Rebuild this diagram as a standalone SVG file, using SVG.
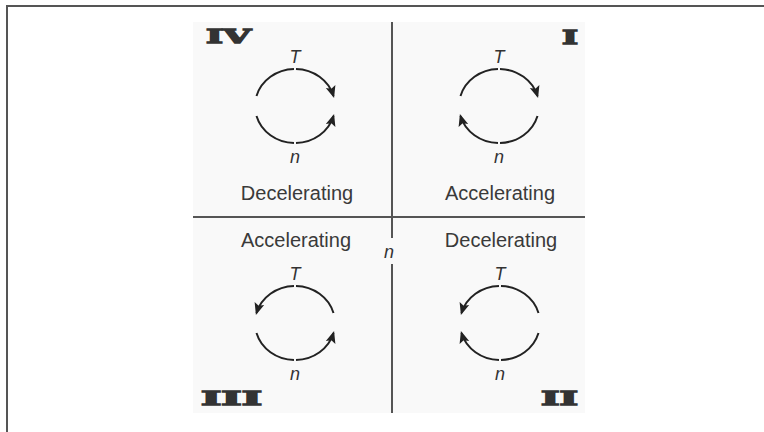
<svg xmlns="http://www.w3.org/2000/svg" width="764" height="432" viewBox="0 0 764 432">
  <style>
    .lbl { font-family: "Liberation Sans", Arial, sans-serif; font-size: 20px; fill: #3a3a3a; text-anchor: middle; }
    .var { font-family: "Liberation Sans", Arial, sans-serif; font-size: 18px; font-style: italic; fill: #333; text-anchor: middle; }
    .rom { font-family: "DejaVu Serif", "Liberation Serif", serif; font-weight: bold; font-size: 18px; fill: #333; stroke: #333; stroke-width: 1.3; }
    .axis { stroke: #555; stroke-width: 2; fill: none; }
    .arc { stroke: #222; stroke-width: 2; fill: none; marker-end: url(#ah); }
  </style>
  <defs>
    <marker id="ah" markerUnits="userSpaceOnUse" markerWidth="14" markerHeight="12" refX="10" refY="5" orient="auto" overflow="visible">
      <path d="M0,0 L12,5 L0,10 L2.5,5 z" fill="#222"/>
    </marker>
  </defs>
  <rect width="764" height="432" fill="#ffffff"/>
  <g id="frame">
    <line x1="6" y1="6" x2="764" y2="6" stroke="#555" stroke-width="2"/>
    <line x1="7" y1="5" x2="7" y2="432" stroke="#555" stroke-width="2"/>
  </g>
  <g id="axes">
    <rect x="193" y="22" width="392" height="391" fill="#f9f9f9"/>
    <line class="axis" x1="193" y1="217" x2="585" y2="217"/>
    <line class="axis" x1="392" y1="22" x2="392" y2="238"/>
    <line class="axis" x1="392" y1="264" x2="392" y2="413"/>
    <text class="var" x="389" y="258">n</text>
  </g>
  <g id="quadrant-IV">
    <text class="rom" x="206" y="43" textLength="45" lengthAdjust="spacingAndGlyphs">IV</text>
    <text class="var" x="295" y="63">T</text>
    <text class="var" x="295" y="163">n</text>
    <text class="lbl" x="297" y="200">Decelerating</text>
  </g>
  <g id="quadrant-I">
    <text class="rom" x="562" y="44" textLength="16" lengthAdjust="spacingAndGlyphs">I</text>
    <text class="var" x="499" y="63">T</text>
    <text class="var" x="499" y="163">n</text>
    <text class="lbl" x="500" y="200">Accelerating</text>
  </g>
  <g id="quadrant-III">
    <text class="rom" x="201" y="405" textLength="61" lengthAdjust="spacingAndGlyphs">III</text>
    <text class="lbl" x="296" y="247">Accelerating</text>
    <text class="var" x="295" y="280">T</text>
    <text class="var" x="295" y="380">n</text>
  </g>
  <g id="quadrant-II">
    <text class="rom" x="541" y="405" textLength="37" lengthAdjust="spacingAndGlyphs">II</text>
    <text class="lbl" x="501" y="247">Decelerating</text>
    <text class="var" x="500" y="280">T</text>
    <text class="var" x="500" y="380">n</text>
  </g>
  <g id="connectors">
    <path class="arc" d="M256.5 96 A40 37 0 0 1 294 69 M296 69 A40 37 0 0 1 333.5 96"/>
    <path class="arc" d="M256.5 116 A40 37 0 0 0 294 143 M296 143 A40 37 0 0 0 333.5 116"/>
    <path class="arc" d="M460.5 96 A40 37 0 0 1 498 69 M500 69 A40 37 0 0 1 537.5 96"/>
    <path class="arc" d="M537.5 116 A40 37 0 0 1 500 143 M498 143 A40 37 0 0 1 460.5 116"/>
    <path class="arc" d="M333.5 313 A40 37 0 0 0 296 286 M294 286 A40 37 0 0 0 256.5 313"/>
    <path class="arc" d="M256.5 333 A40 37 0 0 0 294 360 M296 360 A40 37 0 0 0 333.5 333"/>
    <path class="arc" d="M538.5 313 A40 37 0 0 0 501 286 M499 286 A40 37 0 0 0 461.5 313"/>
    <path class="arc" d="M538.5 333 A40 37 0 0 1 501 360 M499 360 A40 37 0 0 1 461.5 333"/>
  </g>
</svg>
